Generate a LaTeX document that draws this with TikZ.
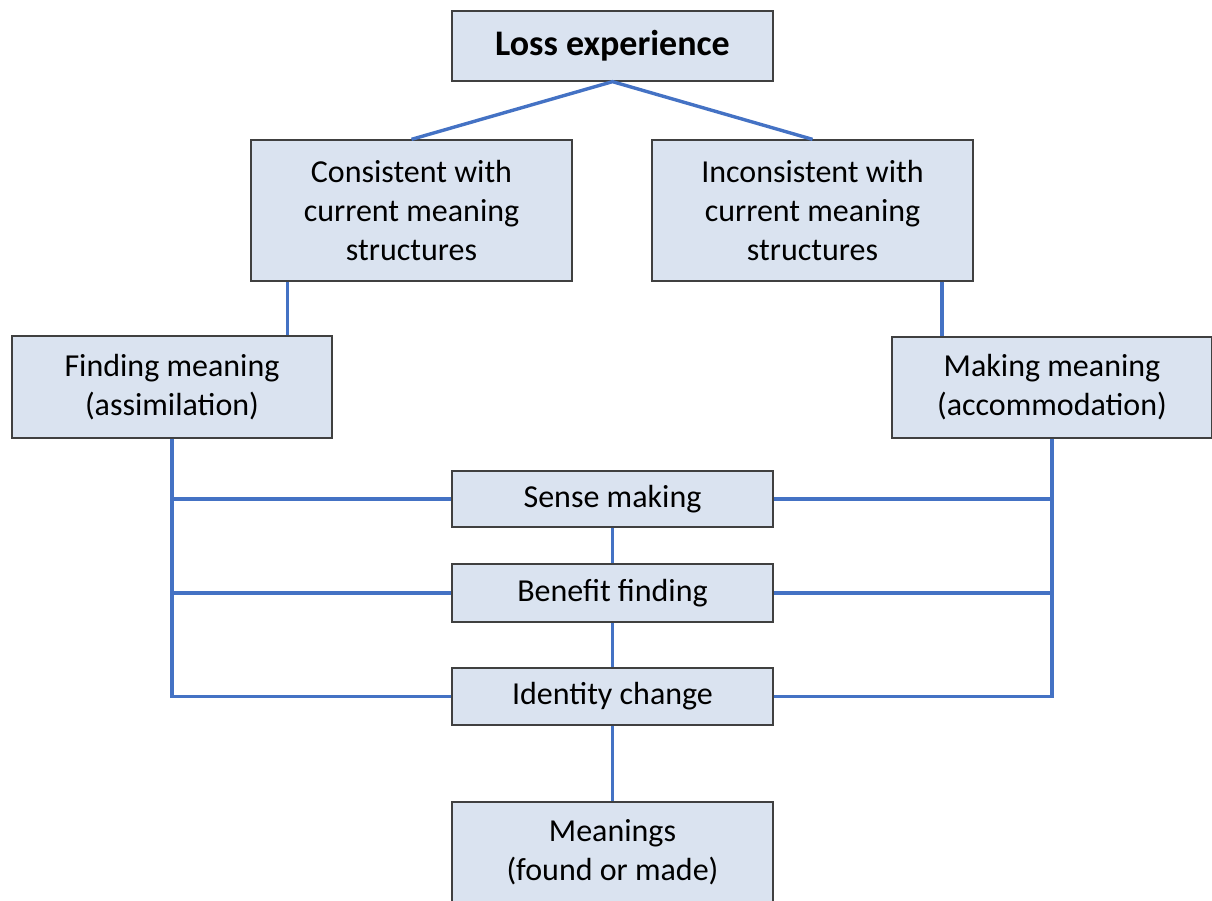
\documentclass[tikz,border=0pt]{standalone}
\usepackage{fontspec}
\setmainfont{Carlito}
\begin{document}
\begin{tikzpicture}[x=1pt,y=-1pt,
  box/.style={draw=black!75, line width=1.3pt, fill=boxfill, align=center, inner sep=0pt,
    font=\fontsize{32}{39}\selectfont},
  wire/.style={draw=wireblue, line width=3.4pt}]
\definecolor{boxfill}{HTML}{DAE3F0}
\definecolor{wireblue}{HTML}{4472C4}
\useasboundingbox (0,0) rectangle (1212,900);
\node[box, minimum width=321pt, minimum height=70pt, font=\fontsize{36}{42}\selectfont\bfseries] (loss) at (612.5,46) {Loss experience};
\node[box, minimum width=321pt, minimum height=141pt] (cons) at (411.5,210.5) {Consistent with\\current meaning\\structures};
\node[box, minimum width=321pt, minimum height=141pt] (incons) at (812.5,210.5) {Inconsistent with\\current meaning\\structures};
\node[box, minimum width=320pt, minimum height=102pt] (find) at (172,387) {Finding meaning\\(assimilation)};
\node[box, minimum width=320pt, minimum height=101pt] (make) at (1052,387.5) {Making meaning\\(accommodation)};
\node[box, minimum width=321pt, minimum height=56pt] (sense) at (612.5,499) {Sense making};
\node[box, minimum width=321pt, minimum height=58pt] (benefit) at (612.5,593) {Benefit finding};
\node[box, minimum width=321pt, minimum height=57pt] (ident) at (612.5,696.5) {Identity change};
\node[box, minimum width=321pt, minimum height=101pt] (mean) at (612.5,852.5) {Meanings\\(found or made)};
\draw[wire] (cons.north) -- (loss.south) -- (incons.north);
\draw[wire] ([xshift=-124pt]cons.south) -- ([xshift=-124pt]cons.south |- find.north);
\draw[wire] ([xshift=129.5pt]incons.south) -- ([xshift=129.5pt]incons.south |- make.north);
\draw[wire] (find.south) -- (find.south |- ident.west) -- (ident.west);
\draw[wire] (find.south |- sense.west) -- (sense.west);
\draw[wire] (find.south |- benefit.west) -- (benefit.west);
\draw[wire] (make.south) -- (make.south |- ident.east) -- (ident.east);
\draw[wire] (make.south |- sense.east) -- (sense.east);
\draw[wire] (make.south |- benefit.east) -- (benefit.east);
\draw[wire] (sense.south) -- (benefit.north);
\draw[wire] (benefit.south) -- (ident.north);
\draw[wire] (ident.south) -- (mean.north);
\end{tikzpicture}
\end{document}
